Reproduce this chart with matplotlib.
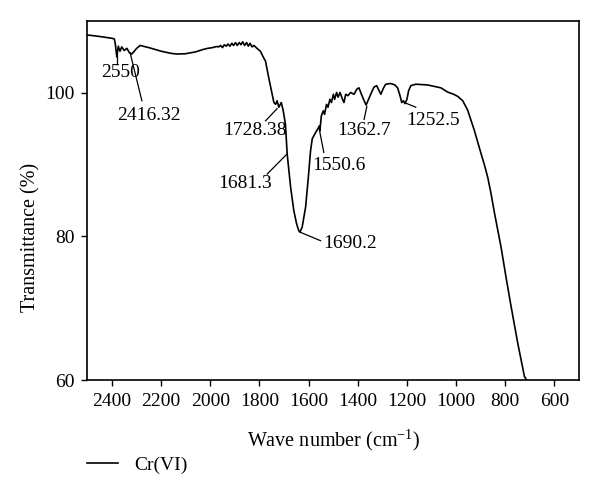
import matplotlib as mpl
mpl.use('Agg')
import matplotlib.pyplot as plt
import numpy as np

plt.rcParams['font.family'] = ['Liberation Serif', 'DejaVu Serif']
plt.rcParams['mathtext.fontset'] = 'custom'
plt.rcParams['mathtext.rm'] = 'Liberation Serif'
plt.rcParams['mathtext.it'] = 'Liberation Serif:italic'

# FTIR spectrum, Cr(VI) loaded sample
wavenumber = [2500, 2450, 2400, 2390, 2386, 2380, 2374, 2367, 2360, 2350, 2339, 2329, 2319,
              2299, 2285, 2250, 2200, 2160, 2135, 2100, 2060, 2028, 2010, 1990, 1975,
              1965, 1958, 1950, 1943, 1935, 1928, 1920, 1912, 1905, 1897, 1890, 1882,
              1875, 1868, 1860, 1852, 1845, 1838, 1830, 1822, 1810, 1796, 1783, 1775,
              1762, 1748, 1741, 1734, 1728, 1721, 1711, 1703, 1694, 1687, 1673, 1660,
              1649, 1640, 1635, 1626, 1612, 1601, 1592, 1585, 1571, 1562, 1556, 1554,
              1548, 1540, 1535, 1527, 1521, 1513, 1507, 1499, 1494, 1486, 1480, 1472,
              1462, 1456, 1449, 1440, 1429, 1415, 1404, 1395, 1385, 1374, 1366, 1356,
              1344, 1334, 1323, 1313, 1306, 1295, 1286, 1266, 1249, 1238, 1228, 1221,
              1214, 1208, 1200, 1193, 1184, 1164, 1116, 1062, 1034, 1010, 993, 973, 953,
              926, 899, 885, 871, 858, 844, 817, 797, 776, 749, 722, 700]
transmittance = [108.06, 107.85, 107.6, 107.5, 106.8, 105.0, 106.5, 105.8, 106.4, 105.9, 106.2, 105.6, 105.4,
                 106.2, 106.6, 106.3, 105.8, 105.5, 105.4, 105.45, 105.7, 106.05, 106.2, 106.3, 106.45,
                 106.4, 106.6, 106.3, 106.7, 106.5, 106.8, 106.5, 106.9, 106.6, 107.0, 106.6, 107.0,
                 106.7, 107.1, 106.6, 107.0, 106.5, 106.9, 106.4, 106.6, 106.2, 105.8, 104.9, 104.4,
                 102.1, 99.8, 98.65, 98.4, 98.9, 98.0, 98.65, 97.5, 95.6, 91.5, 86.85, 83.6,
                 81.8, 80.8, 80.6, 81.3, 84.1, 88.2, 91.9, 93.6, 94.5, 95.0, 95.4, 94.7,
                 96.8, 97.5, 97.0, 98.4, 98.0, 99.1, 98.65, 99.8, 99.1, 100.05, 99.4, 100.05,
                 99.1, 98.65, 99.8, 99.6, 100.05, 99.8, 100.5, 100.7, 99.8, 98.9, 98.3, 99.1,
                 100.05, 100.8, 101.0, 100.3, 99.8, 100.7, 101.2, 101.3, 101.1, 100.7, 99.6, 98.65,
                 98.9, 98.5, 99.1, 100.3, 101.0, 101.2, 101.1, 100.7, 100.1, 99.8, 99.5, 98.9, 97.6,
                 94.8, 91.6, 90.0, 88.2, 86.0, 83.3, 78.5, 74.35, 70.2, 65.1, 60.5, 59.2]

# peak labels: text, peak point, leader end, text centre
peak_labels = ['2550', '2416.32', '1728.38', '1681.3', '1690.2', '1550.6', '1362.7', '1252.5']
peak_xy = [(2380, 105.4), (2326, 105.6), (1728, 97.8), (1687, 91.5),
           (1635, 80.6), (1558, 95.2), (1363, 98.1), (1211, 98.65)]
leader_end = [(2380, 104.0), (2278, 98.9), (1775, 96.1), (1768, 88.7),
              (1551, 79.4), (1538, 91.7), (1374, 96.3), (1164, 98.0)]
label_pos = [(2363, 102.8), (2248, 96.9), (1820, 94.7), (1857, 87.4),
             (1433, 79.0), (1478, 89.9), (1376, 94.7), (1094, 96.1)]

fig = plt.figure(figsize=(6, 5.01), dpi=100)
ax = fig.add_axes([0.1455, 0.2415, 0.8195, 0.7165])

ax.plot(wavenumber, transmittance, color='black', linewidth=1.2)

for lab, p, q, t in zip(peak_labels, peak_xy, leader_end, label_pos):
    ax.plot([p[0], q[0]], [p[1], q[1]], color='black', linewidth=0.9)
    ax.text(t[0], t[1], lab, fontsize=14, ha='center', va='center')

ax.set_xlim(2500, 500)
ax.set_ylim(60, 110)
ax.set_xticks(np.arange(2400, 500, -200))
ax.set_yticks([60, 80, 100])
ax.tick_params(direction='out', length=4, width=1, labelsize=14, pad=5)
for s in ax.spines.values():
    s.set_linewidth(1.2)

ax.set_xlabel(r'Wave number (cm$^{-1}$)', fontsize=14.5)
ax.set_ylabel('Transmittance (%)', fontsize=14.5)
ax.xaxis.set_label_coords(0.5, -0.132)
ax.yaxis.set_label_coords(-0.095, 0.398)

fig.legend(['Cr(VI)'], loc='center left', bbox_to_anchor=(0.1455, 0.072),
           frameon=False, fontsize=14, handlelength=1.6, handletextpad=0.8,
           borderpad=0, borderaxespad=0)

plt.savefig('out.png', dpi=100)
